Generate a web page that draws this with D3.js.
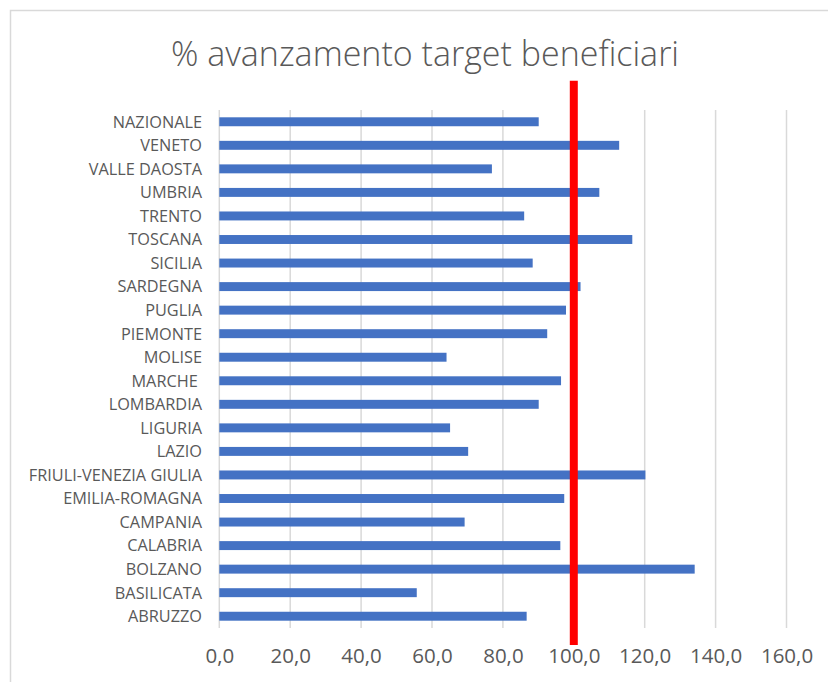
<!DOCTYPE html>
<html>
<head>
<meta charset="utf-8">
<script src="https://cdn.jsdelivr.net/npm/d3@7"></script>
<style>
  body { margin: 0; background: #fff; }
  text { font-family: "Open Sans", sans-serif; fill: #595959; }
</style>
</head>
<body>
<div id="chart"></div>
<script>
// regions, top to bottom as drawn
var regions = ["NAZIONALE", "VENETO", "VALLE DAOSTA", "UMBRIA", "TRENTO", "TOSCANA",
  "SICILIA", "SARDEGNA", "PUGLIA", "PIEMONTE", "MOLISE", "MARCHE ", "LOMBARDIA",
  "LIGURIA", "LAZIO", "FRIULI-VENEZIA GIULIA", "EMILIA-ROMAGNA", "CAMPANIA",
  "CALABRIA", "BOLZANO", "BASILICATA", "ABRUZZO"];
var avanzamento = [90.1, 112.8, 76.9, 107.2, 86.0, 116.5,
  88.4, 101.9, 97.8, 92.5, 64.1, 96.4, 90.1,
  65.1, 70.2, 120.2, 97.3, 69.2,
  96.2, 134.1, 55.7, 86.7];
var xTicks = [0, 20, 40, 60, 80, 100, 120, 140, 160];
var target = 100;
var title = "% avanzamento target beneficiari";

var width = 828, height = 682;
var margin = { top: 110, right: 41.5, bottom: 54, left: 219.3 };

var svg = d3.select("#chart").append("svg")
  .attr("width", width)
  .attr("height", height);

svg.append("rect")
  .attr("x", 10.5).attr("y", 10.5)
  .attr("width", 840).attr("height", 700)
  .attr("fill", "#fff")
  .attr("stroke", "#d9d9d9")
  .attr("stroke-width", 1.5);

var x = d3.scaleLinear()
  .domain([0, 160])
  .range([margin.left, width - margin.right]);

var y = d3.scaleBand()
  .domain(regions)
  .range([margin.top, height - margin.bottom])
  .paddingInner(0.62)
  .paddingOuter(0.31);

// gridlines
svg.append("g").attr("class", "grid")
  .selectAll("line").data(xTicks).enter()
  .append("line")
  .attr("x1", function(d) { return x(d); })
  .attr("x2", function(d) { return x(d); })
  .attr("y1", margin.top)
  .attr("y2", height - margin.bottom)
  .attr("stroke", "#d9d9d9")
  .attr("stroke-width", 1.5);

// bars
svg.append("g").attr("class", "bars")
  .selectAll("rect").data(regions).enter()
  .append("rect")
  .attr("x", x(0))
  .attr("y", function(d) { return y(d); })
  .attr("width", function(d, i) { return x(avanzamento[i]) - x(0); })
  .attr("height", y.bandwidth())
  .attr("fill", "#4472c4");

// category labels
svg.append("g").attr("class", "labels")
  .selectAll("text").data(regions).enter()
  .append("text")
  .attr("x", 202)
  .attr("y", function(d) { return y(d) + y.bandwidth() / 2; })
  .attr("dy", "0.36em")
  .attr("text-anchor", "end")
  .style("font-size", "16.3px")
  .style("white-space", "pre")
  .text(function(d) { return d; });

// x axis labels
var fmt = function(d) { return d3.format(".1f")(d).replace(".", ","); };
var xAxis = d3.axisBottom(x).tickValues(xTicks).tickFormat(fmt).tickSize(0).tickPadding(0);
var gx = svg.append("g")
  .attr("transform", "translate(0," + 648 + ")")
  .call(xAxis);
gx.select(".domain").remove();
gx.selectAll("text")
  .attr("y", 0)
  .attr("dy", "0.71em")
  .style("font-family", "'Open Sans', sans-serif")
  .style("font-size", "20.5px")
  .attr("fill", "#595959");

// target line
svg.append("line")
  .attr("x1", x(target)).attr("x2", x(target))
  .attr("y1", 80.7).attr("y2", 645)
  .attr("stroke", "#ff0000")
  .attr("stroke-width", 8);

// title
svg.append("text")
  .attr("x", 425)
  .attr("y", 66)
  .attr("text-anchor", "middle")
  .style("font-size", "34px")
  .style("font-weight", 300)
  .text(title);
</script>
</body>
</html>
